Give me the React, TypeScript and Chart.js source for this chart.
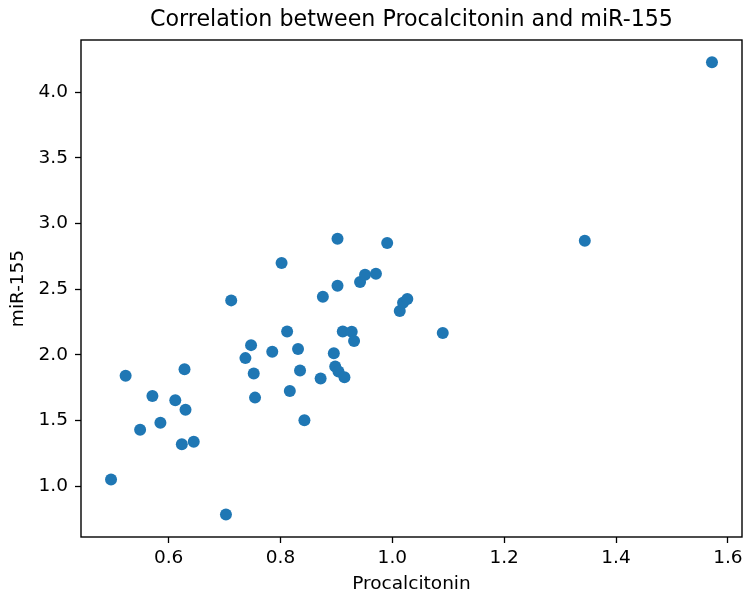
import React, { useEffect, useRef } from 'react';
import { Chart, registerables } from 'chart.js';

Chart.register(...registerables);

const procalcitonin = [
  1.5716, 1.3442, 1.0902, 0.497, 0.7025, 0.5231, 0.549, 0.571, 0.5853, 0.6119,
  0.6284, 0.6302, 0.6236, 0.6449, 0.7119, 0.7373, 0.7474, 0.7522, 0.7545,
  0.7853, 0.802, 0.8119, 0.8167, 0.8314, 0.835, 0.8428, 0.8718, 0.8758, 0.8954,
  0.902, 0.902, 0.8979, 0.9037, 0.9144, 0.9114, 0.9274, 0.9316, 0.9423, 0.9512,
  0.9707, 0.9908, 1.0133, 1.0192, 1.0268,
];
const mir155 = [
  4.229, 2.87, 2.166, 1.051, 0.784, 1.84, 1.43, 1.687, 1.483, 1.654, 1.891,
  1.582, 1.318, 1.338, 2.415, 1.975, 2.074, 1.857, 1.674, 2.023, 2.7, 2.178,
  1.725, 2.044, 1.88, 1.502, 1.819, 2.443, 2.013, 2.885, 2.527, 1.911, 1.873,
  1.83, 2.178, 2.176, 2.105, 2.555, 2.611, 2.618, 2.853, 2.334, 2.397, 2.425,
];
const xTicks = [0.6, 0.8, 1.0, 1.2, 1.4, 1.6];
const yTicks = [1.0, 1.5, 2.0, 2.5, 3.0, 3.5, 4.0];

const titleText = 'Correlation between Procalcitonin and miR-155';
const xLabel = 'Procalcitonin';
const yLabel = 'miR-155';

const FONT = "'DejaVu Sans', sans-serif";
const TEXT = '#000';

export default function App() {
  const ref = useRef<HTMLCanvasElement | null>(null);

  useEffect(() => {
    document.body.style.margin = '0';
    const canvas = ref.current;
    if (!canvas) return;

    const boxPlugin = {
      id: 'box',
      afterDraw(chart: any) {
        const { ctx, chartArea } = chart;
        ctx.save();
        ctx.strokeStyle = '#000';
        ctx.lineWidth = 1.4;
        ctx.strokeRect(
          chartArea.left,
          chartArea.top,
          chartArea.right - chartArea.left,
          chartArea.bottom - chartArea.top
        );
        // title centred over the axes, like matplotlib
        ctx.fillStyle = TEXT;
        ctx.font = `22.2px ${FONT}`;
        ctx.textAlign = 'center';
        ctx.textBaseline = 'middle';
        ctx.fillText(titleText, (chartArea.left + chartArea.right) / 2, chartArea.top - 20);
        ctx.restore();
      },
    };

    const chart = new Chart(canvas, {
      type: 'scatter',
      data: {
        datasets: [
          {
            data: procalcitonin.map((x, i) => ({ x, y: mir155[i] })),
            backgroundColor: '#1f77b4',
            borderColor: '#1f77b4',
            borderWidth: 0,
            pointRadius: 6,
            pointHoverRadius: 6,
          },
        ],
      },
      options: {
        responsive: false,
        animation: false,
        layout: { padding: { left: 0, right: 2.5, top: 40, bottom: 0 } },
        plugins: {
          legend: { display: false },
          tooltip: { enabled: false },
          title: { display: false },
        },
        scales: {
          x: {
            type: 'linear',
            min: 0.4433,
            max: 1.6253,
            afterBuildTicks: (s: any) => {
              s.ticks = xTicks.map((v) => ({ value: v }));
            },
            afterFit: (s: any) => {
              s.height = 55;
            },
            border: { display: false },
            grid: {
              drawOnChartArea: false,
              drawTicks: true,
              tickLength: 6,
              tickWidth: 1.3,
              color: '#000',
            },
            ticks: {
              autoSkip: false,
              maxRotation: 0,
              padding: 4,
              color: TEXT,
              font: { family: FONT, size: 18.5 },
              callback: (v: any) => Number(v).toFixed(1),
            },
            title: {
              display: true,
              text: xLabel,
              color: TEXT,
              font: { family: FONT, size: 18.5 },
              padding: { top: 0, bottom: -3 },
            },
          },
          y: {
            type: 'linear',
            min: 0.612,
            max: 4.399,
            afterBuildTicks: (s: any) => {
              s.ticks = yTicks.map((v) => ({ value: v }));
            },
            afterFit: (s: any) => {
              s.width = 81;
            },
            border: { display: false },
            grid: {
              drawOnChartArea: false,
              drawTicks: true,
              tickLength: 6,
              tickWidth: 1.3,
              color: '#000',
            },
            ticks: {
              autoSkip: false,
              padding: 7,
              color: TEXT,
              font: { family: FONT, size: 18.5 },
              callback: (v: any) => Number(v).toFixed(1),
            },
            title: {
              display: true,
              text: yLabel,
              color: TEXT,
              font: { family: FONT, size: 18.5 },
              padding: { top: 7.4, bottom: 0 },
            },
          },
        },
      },
      plugins: [boxPlugin],
    } as any);

    return () => chart.destroy();
  }, []);

  return (
    <div style={{ width: 748, height: 592 }}>
      <canvas ref={ref} width={748} height={592} />
    </div>
  );
}
